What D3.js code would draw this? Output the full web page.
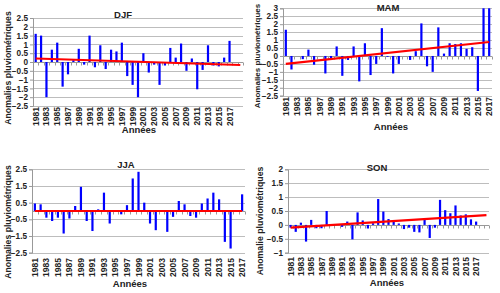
<!DOCTYPE html>
<html lang="fr">
<head>
<meta charset="utf-8">
<title>Anomalies pluviométriques saisonnières</title>
<script src="https://cdn.jsdelivr.net/npm/d3@7"></script>
<style>
body { margin: 0; background: #fff; }
svg { display: block; font-family: "Liberation Sans", Arial, sans-serif; }
.grid line { stroke: #bdbdbd; stroke-width: 1; }
.tick text { font-weight: bold; fill: #222; }
</style>
</head>
<body>
<div id="chart"></div>
<script>

// years shown on each panel
var yearsLong = d3.range(1981, 2020);   // DJF, SON : axis runs to 2019
var yearsShort = d3.range(1981, 2018);  // MAM, JJA

// anomalies (null = no bar)
var djf = [1.6, 1.5, -2.0, 0.7, 1.1, -1.4, -0.7, 0.1, 0.75, -0.15,
           1.5, -0.3, 0.95, -0.4, 0.7, 0.6, 1.1, -0.8, -1.3, -2.0,
           0.5, -0.6, -0.15, -1.3, -0.2, 0.8, 0.25, 1.05, -0.5, 0.2,
           -1.55, -0.45, 0.95, -0.2, -0.25, 0.25, 1.2, null, null];
var mam = [1.65, -0.85, 0, -0.2, 0.4, -0.55, 0, -1.1, -0.15, 0.6,
           -1.25, -0.25, 0.6, -1.6, 0.8, -1.2, -0.5, 1.75, -0.05, -1.1,
           -0.5, 0, -0.25, 0.3, 2.05, -0.65, -1.0, 1.8, 0.15, 0.8,
           0.75, 0.8, 0.45, 0.55, -2.2, 3.0, 3.0];
var jja = [0.45, 0.4, -0.4, -0.6, -0.4, -1.35, -0.45, 0.3, 1.45, -0.6,
           -1.2, 0.1, 1.1, -0.75, -0.05, -0.2, 0.35, 1.95, 2.35, 0.5,
           -0.75, -1.15, 0.05, -1.25, -0.35, 0.6, 0.4, -0.3, -0.4, 0.45,
           0.75, 1.1, 0.7, -1.85, -2.25, 0, 1.0];
var son = [-0.1, -0.25, 0.08, -0.6, 0.18, -0.12, -0.12, 0.5, 0.02, 0.03,
           -0.07, 0.12, -0.52, 0.45, 0.16, -0.13, 0.06, 0.93, 0.48, 0.21,
           0.11, 0.05, -0.15, -0.1, -0.25, -0.27, 0.18, -0.47, -0.1, 0.9,
           0.53, 0.42, 0.7, 0.34, 0.38, 0.2, 0.12, null, null];

// linear trend: value at first and last year of the axis
var djfTrend = [0.2, -0.17];
var mamTrend = [-0.5, 0.88];
var jjaTrend = [0, 0];
var sonTrend = [-0.1, 0.35];

// y tick values
var djfTicks = [2.5, 2, 1.5, 1, 0.5, 0, -0.5, -1, -1.5, -2, -2.5];
var mamTicks = [3, 2.5, 2, 1.5, 1, 0.5, 0, -0.5, -1, -1.5, -2, -2.5];
var jjaTicks = [2.5, 1.5, 0.5, -0.5, -1.5, -2.5];
var sonTicks = [2, 1.5, 1, 0.5, 0, -0.5, -1];

var panels = [
    {title: "DJF", years: yearsLong, values: djf, trend: djfTrend, ticks: djfTicks,
     domain: [-2.5, 2.5], x0: 33, x1: 243, y0: 18, y1: 106,
     titleX: 123, titleY: 18, ylab: "Anomalies pluviométriques", ylabX: 8, ylabY: 68,
     ylabSize: 8.7, labY: 107, xlabX: 139, xlabY: 133},
    {title: "MAM", years: yearsShort, values: mam, trend: mamTrend, ticks: mamTicks,
     domain: [-2.5, 3], x0: 283, x1: 492, y0: 8.3, y1: 95.7,
     titleX: 388, titleY: 11, ylab: "Anomalies pluviométriques", ylabX: 257, ylabY: 56,
     ylabSize: 8, labY: 97, xlabX: 391, xlabY: 130},
    {title: "JJA", years: yearsShort, values: jja, trend: jjaTrend, ticks: jjaTicks,
     domain: [-2.5, 2.5], x0: 32, x1: 245, y0: 169.3, y1: 252.7,
     titleX: 126, titleY: 168, ylab: "Anomalies pluviométriques", ylabX: 8, ylabY: 222,
     ylabSize: 8.7, labY: 258, xlabX: 130, xlabY: 287},
    {title: "SON", years: yearsLong, values: son, trend: sonTrend, ticks: sonTicks,
     domain: [-1, 2], x0: 288, x1: 489, y0: 169.3, y1: 252.7,
     titleX: 377, titleY: 171, ylab: "Anomalie pluviométriques", ylabX: 260, ylabY: 221,
     ylabSize: 8.7, labY: 257, xlabX: 387, xlabY: 286}
];

var svg = d3.select("#chart").append("svg")
    .attr("width", 500)
    .attr("height", 293);

function drawPanel(p) {
    var g = svg.append("g");

    var x = d3.scaleBand()
        .domain(p.years)
        .range([p.x0, p.x1]);

    var y = d3.scaleLinear()
        .domain(p.domain)
        .range([p.y1, p.y0]);

    // horizontal gridlines
    g.append("g").attr("class", "grid")
        .selectAll("line")
        .data(p.ticks)
        .enter().append("line")
            .attr("x1", p.x0)
            .attr("x2", p.x1)
            .attr("y1", function(d) { return Math.round(y(d)) + 0.5; })
            .attr("y2", function(d) { return Math.round(y(d)) + 0.5; });

    // y axis
    var yAxis = g.append("g")
        .attr("transform", "translate(" + p.x0 + ",0)")
        .call(d3.axisLeft(y).tickValues(p.ticks).tickSize(3).tickPadding(2)
            .tickFormat(d3.format("")));
    yAxis.select(".domain").attr("stroke", "#999");
    yAxis.selectAll(".tick line").attr("stroke", "#999");
    yAxis.selectAll("text").style("font-size", "8.2px");

    // zero line with category ticks
    var zero = Math.round(y(0)) + 0.5;
    g.append("line")
        .attr("x1", p.x0).attr("x2", p.x1)
        .attr("y1", zero).attr("y2", zero)
        .attr("stroke", "#999");
    g.selectAll(".ctick")
        .data(p.years.concat([null]))
        .enter().append("line")
            .attr("class", "ctick")
            .attr("x1", function(d, i) { return Math.round(p.x0 + i * x.step()) + 0.5; })
            .attr("x2", function(d, i) { return Math.round(p.x0 + i * x.step()) + 0.5; })
            .attr("y1", zero)
            .attr("y2", zero + 3)
            .attr("stroke", "#999");

    // bars
    var bw = 2.2;
    g.selectAll(".bar")
        .data(p.values.map(function(v, i) { return {year: p.years[i], v: v}; })
            .filter(function(d) { return d.v !== null && d.v !== 0; }))
        .enter().append("rect")
            .attr("class", "bar")
            .attr("x", function(d) { return x(d.year) + x.bandwidth() / 2 - bw / 2; })
            .attr("width", bw)
            .attr("y", function(d) { return y(Math.max(0, d.v)); })
            .attr("height", function(d) { return Math.abs(y(d.v) - y(0)); })
            .attr("fill", "#0000ff");

    // trend
    var first = p.years[0], last = p.years[p.years.length - 1];
    g.append("line")
        .attr("x1", x(first) + x.bandwidth() / 2)
        .attr("x2", x(last) + x.bandwidth() / 2)
        .attr("y1", y(p.trend[0]))
        .attr("y2", y(p.trend[1]))
        .attr("stroke", "#ff0000")
        .attr("stroke-width", 2.2);

    // year labels (odd years up to 2017)
    g.selectAll(".ylab")
        .data(p.years.filter(function(d) { return d % 2 === 1 && d <= 2017; }))
        .enter().append("text")
            .attr("class", "ylab")
            .attr("transform", function(d) {
                return "translate(" + (x(d) + x.bandwidth() / 2 + 3) + "," + p.labY + ") rotate(-90)";
            })
            .attr("text-anchor", "end")
            .style("font-size", "8.5px")
            .style("font-weight", "bold")
            .attr("fill", "#222")
            .text(function(d) { return d; });

    // title
    g.append("text")
        .attr("x", p.titleX).attr("y", p.titleY)
        .attr("text-anchor", "middle")
        .style("font-size", "9.5px")
        .style("font-weight", "bold")
        .attr("fill", "#222")
        .text(p.title);

    // axis titles
    g.append("text")
        .attr("transform", "translate(" + (p.ylabX + 3) + "," + p.ylabY + ") rotate(-90)")
        .attr("text-anchor", "middle")
        .style("font-size", p.ylabSize + "px")
        .style("font-weight", "bold")
        .attr("fill", "#222")
        .text(p.ylab);

    g.append("text")
        .attr("x", p.xlabX).attr("y", p.xlabY)
        .attr("text-anchor", "middle")
        .style("font-size", "9.5px")
        .style("font-weight", "bold")
        .attr("fill", "#222")
        .text("Années");
}

panels.forEach(drawPanel);

</script>
</body>
</html>
